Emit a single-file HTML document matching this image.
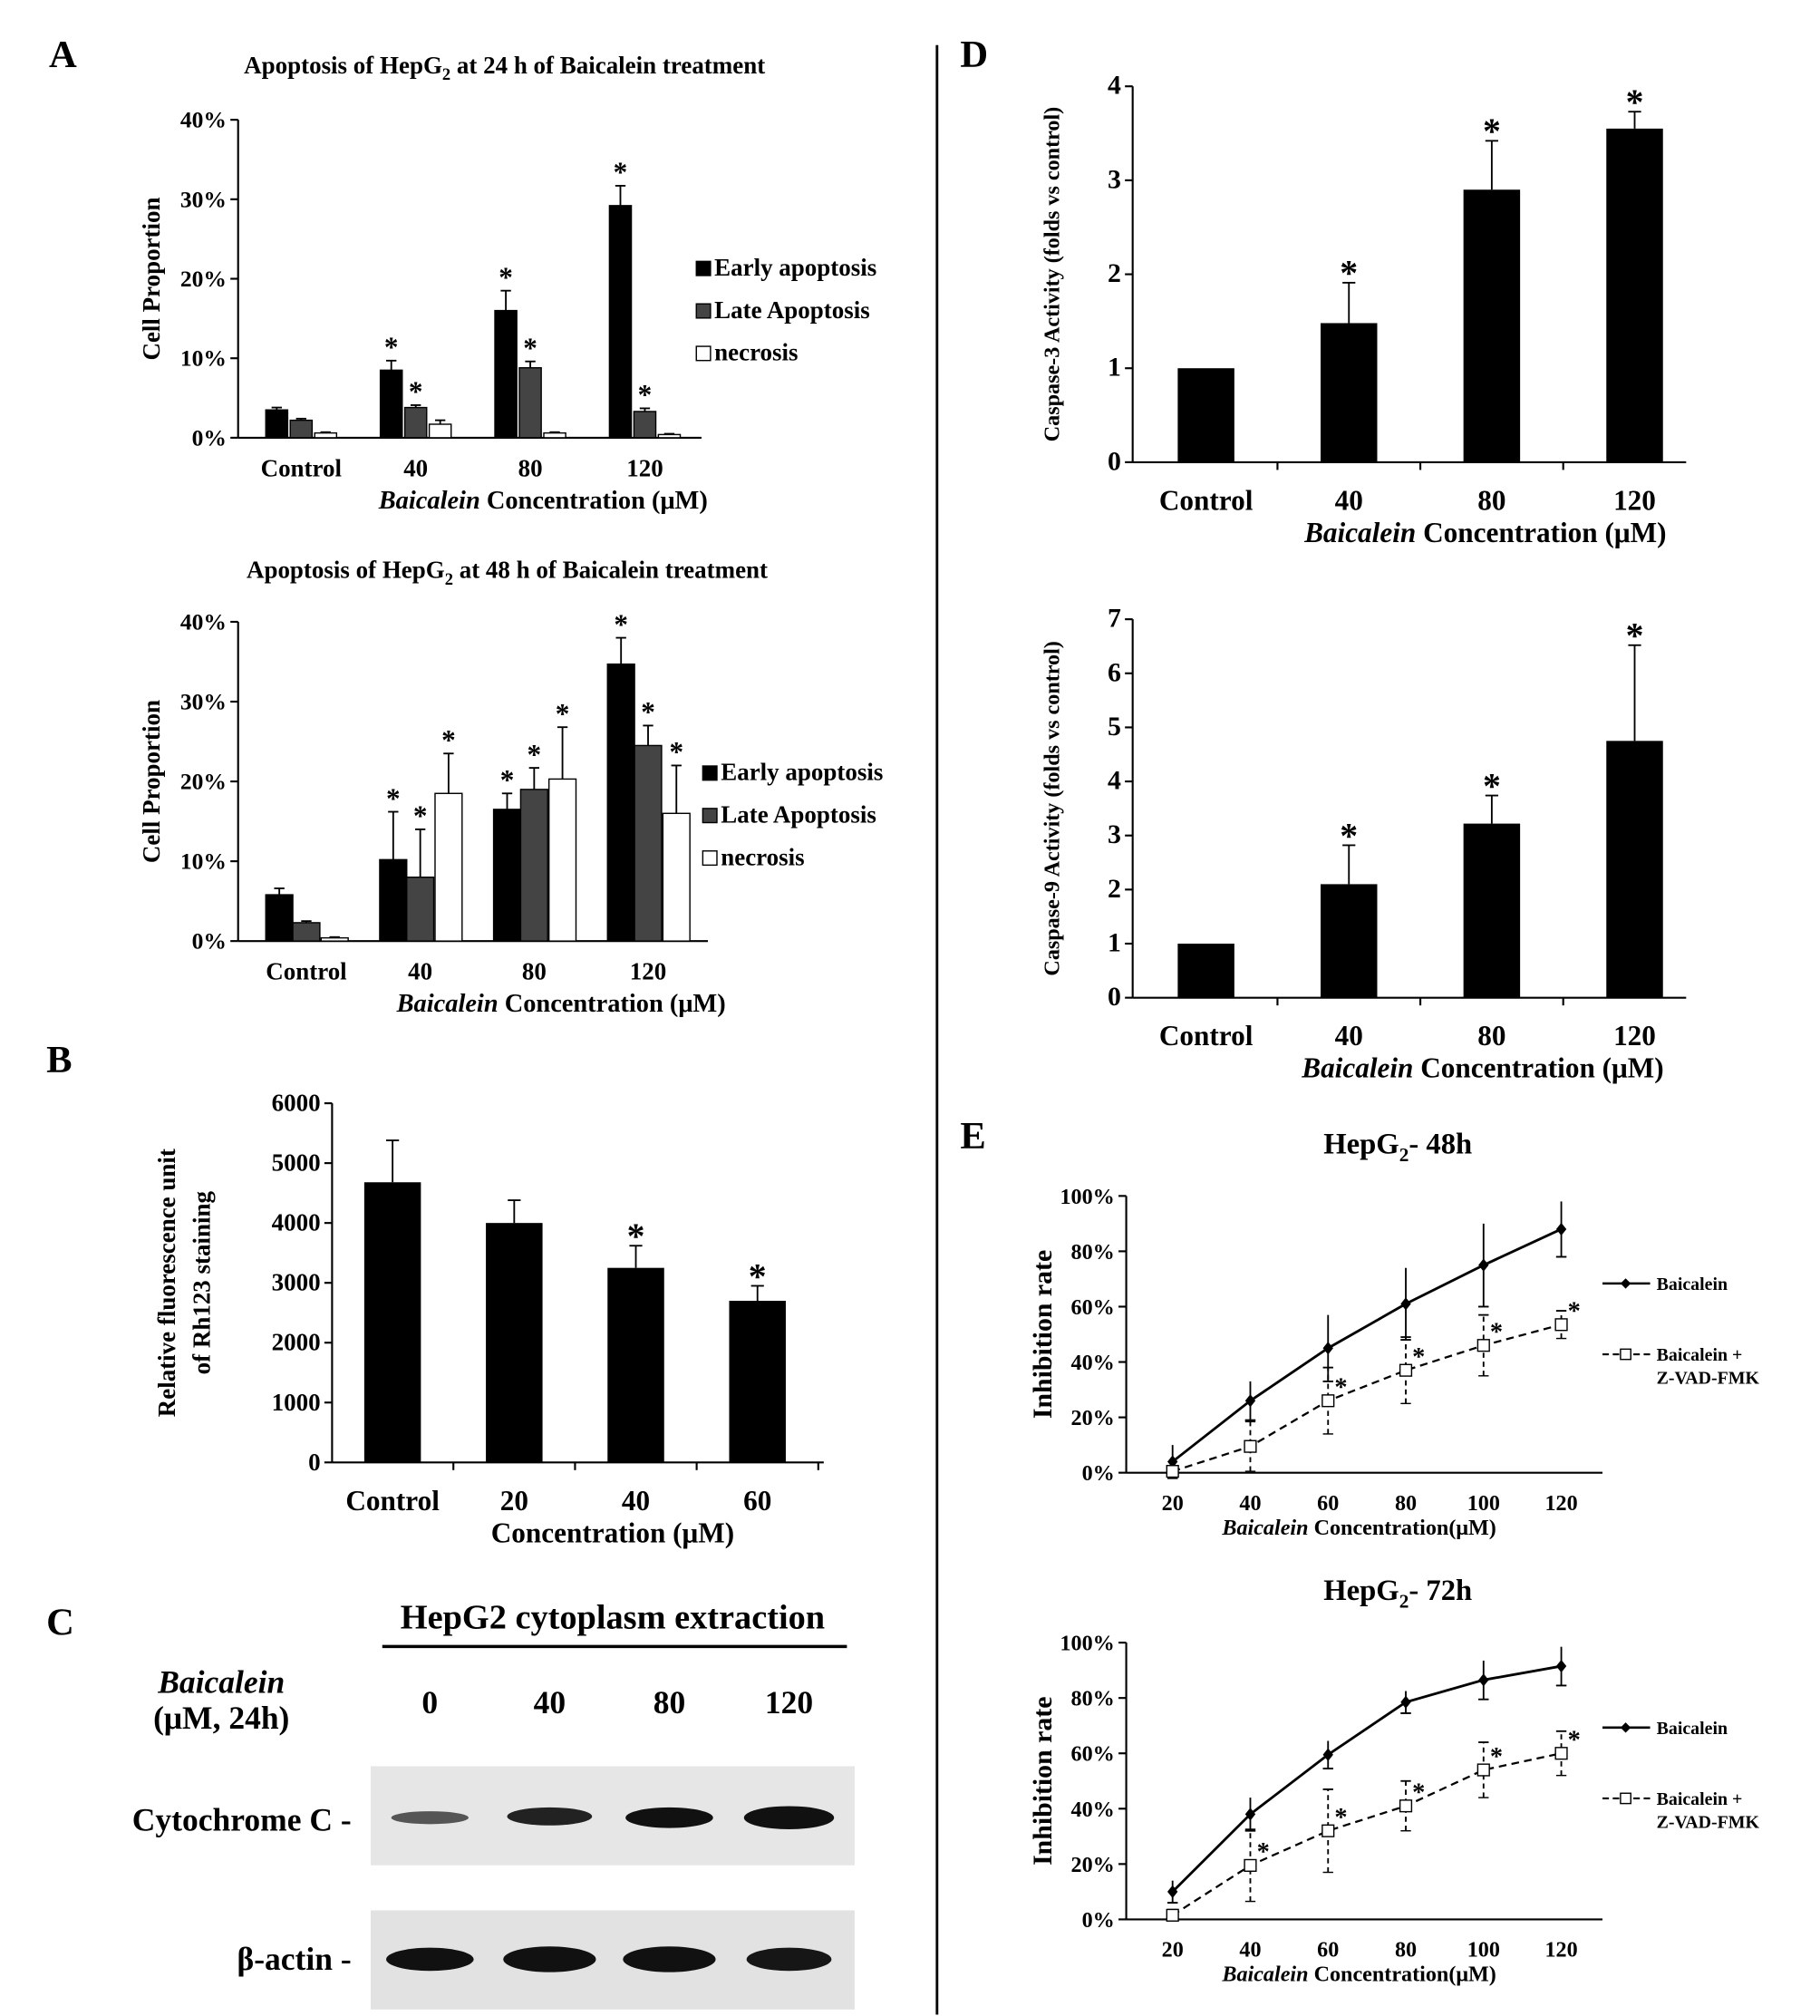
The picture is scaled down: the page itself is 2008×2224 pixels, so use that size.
<!DOCTYPE html>
<html><head><meta charset="utf-8"><style>
html,body{margin:0;padding:0;background:#fff}
svg{display:block}
text{font-family:"Liberation Serif",serif;font-weight:bold;fill:#000}
</style></head><body>
<svg id="s" width="2008" height="2224" viewBox="0 0 1414 1566" xmlns="http://www.w3.org/2000/svg">
<g id="static">
<text x="38" y="52" font-size="30">A</text>
<text x="36" y="833" font-size="30">B</text>
<text x="36" y="1270" font-size="30">C</text>
<text x="746" y="52" font-size="30">D</text>
<text x="746" y="892" font-size="30">E</text>
<line x1="728" y1="35" x2="728" y2="1565" stroke="#000" stroke-width="2"/>
<g>
<text x="476" y="1265" font-size="27" text-anchor="middle">HepG2 cytoplasm extraction</text>
<line x1="297" y1="1279" x2="658" y2="1279" stroke="#000" stroke-width="2.5"/>
<text x="172" y="1315" font-size="25" font-style="italic" text-anchor="middle">Baicalein</text>
<text x="172" y="1343" font-size="25" text-anchor="middle">(μM, 24h)</text>
<text x="334" y="1331" font-size="25" text-anchor="middle">0</text>
<text x="427" y="1331" font-size="25" text-anchor="middle">40</text>
<text x="520" y="1331" font-size="25" text-anchor="middle">80</text>
<text x="613" y="1331" font-size="25" text-anchor="middle">120</text>
<rect x="288" y="1372" width="376" height="77" fill="#e6e6e6"/>
<rect x="288" y="1484" width="376" height="77" fill="#e2e2e2"/>
<ellipse cx="334" cy="1412" rx="30" ry="5" fill="#555"/>
<ellipse cx="427" cy="1411" rx="33" ry="7" fill="#222"/>
<ellipse cx="520" cy="1412" rx="34" ry="8" fill="#111"/>
<ellipse cx="613" cy="1412" rx="35" ry="9" fill="#111"/>
<ellipse cx="334" cy="1522" rx="34" ry="9" fill="#111"/>
<ellipse cx="427" cy="1522" rx="36" ry="10" fill="#111"/>
<ellipse cx="520" cy="1522" rx="36" ry="10" fill="#111"/>
<ellipse cx="613" cy="1522" rx="33" ry="9" fill="#161616"/>
<text x="273" y="1422" font-size="25" text-anchor="end">Cytochrome C -</text>
<text x="273" y="1530" font-size="25" text-anchor="end">β-actin -</text>
</g>
</g>
<g id="charts"></g>
</svg>
<script>
// Panel A top (24h)
const a1Cats=["Control","40","80","120"];
const a1Early=[3.5,8.5,16,29.2];const a1EarlyErr=[0.3,1.2,2.5,2.5];
const a1Late=[2.2,3.8,8.8,3.3];const a1LateErr=[0.2,0.3,0.8,0.4];
const a1Nec=[0.6,1.7,0.6,0.4];const a1NecErr=[0.1,0.5,0.1,0.1];
const a1Star=[[0,0,0],[1,1,0],[1,1,0],[1,1,0]];
const aTicks=[0,10,20,30,40];
// Panel A bottom (48h)
const a2Early=[5.8,10.2,16.5,34.7];const a2EarlyErr=[0.8,6,2,3.3];
const a2Late=[2.3,8,19,24.5];const a2LateErr=[0.2,6,2.7,2.5];
const a2Nec=[0.4,18.5,20.3,16];const a2NecErr=[0.1,5,6.5,6];
const a2Star=[[0,0,0],[1,1,1],[1,1,1],[1,1,1]];
// Panel B
const bCats=["Control","20","40","60"];
const bVals=[4680,4000,3250,2700];const bErr=[700,380,370,250];const bStar=[0,0,1,1];
const bTicks=[0,1000,2000,3000,4000,5000,6000];
// Panel D
const dCats=["Control","40","80","120"];
const d1Vals=[1,1.48,2.9,3.55];const d1Err=[0,0.43,0.52,0.18];const d1Star=[0,1,1,1];
const d1Ticks=[0,1,2,3,4];
const d2Vals=[1,2.1,3.22,4.75];const d2Err=[0,0.72,0.52,1.77];const d2Star=[0,1,1,1];
const d2Ticks=[0,1,2,3,4,5,6,7];
// Panel E
const eCats=["20","40","60","80","100","120"];
const eTicks=[0,20,40,60,80,100];
const e1B=[4,26,45,61,75,88];const e1BErr=[6,7,12,13,15,10];
const e1Z=[0.5,9.5,26,37,46,53.5];const e1ZErr=[2,9,12,12,11,5];const e1Star=[0,0,1,1,1,1];
const e2B=[10,38,59.5,78.5,86.5,91.5];const e2BErr=[4,6,5,4,7,7];
const e2Z=[1.5,19.5,32,41,54,60];const e2ZErr=[2,13,15,9,10,8];const e2Star=[0,1,1,1,1,1];

const NS="http://www.w3.org/2000/svg";
const root=document.getElementById('charts');
function mk(tag,attrs,parent,txt){const e=document.createElementNS(NS,tag);for(const k in attrs)e.setAttribute(k,attrs[k]);if(txt!==undefined)e.textContent=txt;(parent||root).appendChild(e);return e;}
function yScale(y0,y1,max){return v=>y0-(v/max)*(y0-y1);}
function axes(g,x0,x1,y0,y1,ticks,max,fmt,fs){
  const sy=yScale(y0,y1,max);
  mk('line',{x1:x0,y1:y0,x2:x0,y2:y1,stroke:'#000','stroke-width':1.5},g);
  mk('line',{x1:x0,y1:y0,x2:x1,y2:y0,stroke:'#000','stroke-width':1.5},g);
  ticks.forEach(t=>{const y=sy(t);mk('line',{x1:x0-6,y1:y,x2:x0,y2:y,stroke:'#000','stroke-width':1.5},g);
    const tl=mk('text',{x:x0-9,y:y+6,'font-size':fs,'text-anchor':'end'},g,fmt(t));
    
    });
  return sy;
}
function errbar(g,x,yv,ye,w,dash){
  const a={stroke:'#000','stroke-width':1.3};if(dash)a['stroke-dasharray']='4,3';
  mk('line',Object.assign({x1:x,y1:yv,x2:x,y2:ye},a),g);
  mk('line',{x1:x-w,y1:ye,x2:x+w,y2:ye,stroke:'#000','stroke-width':1.3},g);
}
function star(g,x,y,fs){const s=mk('text',{x:x,y:y,'font-size':fs,'text-anchor':'middle'},g,'*');
  
  }

function groupedChart(name,cfg){
  const g=mk('g',{},root);
  
  
  mk('text',{x:cfg.titleX,y:cfg.titleY,'font-size':19,'text-anchor':'middle'},g).innerHTML='Apoptosis of HepG<tspan font-size="13" dy="5">2</tspan><tspan dy="-5"> at '+cfg.hours+' h of Baicalein treatment</tspan>';
  const sy=axes(g,cfg.x0,cfg.x1,cfg.y0,cfg.y1,aTicks,40,t=>t+'%',18);
  const series=[cfg.early,cfg.late,cfg.nec],errs=[cfg.earlyErr,cfg.lateErr,cfg.necErr];
  const fills=['#000','#444','#fff'],names=['early-apoptosis','late-apoptosis','necrosis'];
  a1Cats.forEach((c,i)=>{
    const cx=cfg.cx0+i*cfg.step;
    series.forEach((s,j)=>{
      const x=cx+cfg.offs[j]-cfg.bw/2;const y=sy(s[i]);
      const r=mk('rect',{x:x,y:y,width:cfg.bw,height:cfg.y0-y,fill:fills[j],stroke:'#000','stroke-width':1},g);
      
      
      const ye=sy(s[i]+errs[j][i]);errbar(g,x+cfg.bw/2,y,ye,4);
      if(cfg.star[i][j])star(g,x+cfg.bw/2,ye-3,22);
    });
    const l=mk('text',{x:cx,y:cfg.y0+30,'font-size':19,'text-anchor':'middle'},g,c);
    
    
  });
  mk('text',{x:cfg.axX,y:cfg.y0+55,'font-size':20,'text-anchor':'middle'},g).innerHTML='<tspan font-style="italic">Baicalein</tspan> Concentration (μM)';
  mk('text',{x:0,y:0,'font-size':19,'text-anchor':'middle',transform:`translate(124,${(cfg.y0+cfg.y1)/2}) rotate(-90)`},g,'Cell  Proportion');
  ['Early apoptosis','Late Apoptosis','necrosis'].forEach((t,j)=>{
    const ly=cfg.legY+j*33;
    const lr=mk('rect',{x:cfg.legX,y:ly-11,width:11,height:11,fill:fills[j],stroke:'#000'},g);
    
    
    mk('text',{x:cfg.legX+14,y:ly,'font-size':19},g,t);
  });
}
groupedChart('chart-apoptosis-24h',{titleX:392,titleY:57,hours:24,x0:185,x1:545,y0:340,y1:93,cx0:234,step:89,bw:17,offs:[-19,0,19],
 early:a1Early,earlyErr:a1EarlyErr,late:a1Late,lateErr:a1LateErr,nec:a1Nec,necErr:a1NecErr,star:a1Star,axX:422,legX:541,legY:214});
groupedChart('chart-apoptosis-48h',{titleX:394,titleY:449,hours:48,x0:185,x1:550,y0:731,y1:483,cx0:238,step:88.5,bw:21,offs:[-21,0,22],
 early:a2Early,earlyErr:a2EarlyErr,late:a2Late,lateErr:a2LateErr,nec:a2Nec,necErr:a2NecErr,star:a2Star,axX:436,legX:546,legY:606});

function simpleBar(name,cfg){
  const g=mk('g',{},root);
  
  
  const sy=axes(g,cfg.x0,cfg.x1,cfg.y0,cfg.y1,cfg.ticks,cfg.max,t=>t,cfg.tfs);
  cfg.cats.forEach((c,i)=>{
    const cx=cfg.cx0+i*cfg.step;const y=sy(cfg.vals[i]);
    const r=mk('rect',{x:cx-cfg.bw/2,y:y,width:cfg.bw,height:cfg.y0-y,fill:'#000'},g);
    
    
    let top=y;
    if(cfg.err[i]>0){top=sy(cfg.vals[i]+cfg.err[i]);errbar(g,cx,y,top,5);}
    if(cfg.star[i])star(g,cx,top+2,28);
    if(i<cfg.cats.length-1||cfg.endTick)mk('line',{x1:cx+cfg.step/2,y1:cfg.y0,x2:cx+cfg.step/2,y2:cfg.y0+6,stroke:'#000','stroke-width':1.5},g);
    const l=mk('text',{x:cx,y:cfg.y0+37,'font-size':22,'text-anchor':'middle'},g,c);
    
    
  });
  mk('text',{x:cfg.axX,y:cfg.y0+62,'font-size':22,'text-anchor':'middle'},g).innerHTML=cfg.axTitle;
  cfg.ylab.forEach((t,k)=>mk('text',{x:0,y:0,'font-size':cfg.yfs,'text-anchor':'middle',transform:`translate(${cfg.ylx[k]},${(cfg.y0+cfg.y1)/2}) rotate(-90)`},g,t));
}
simpleBar('chart-rh123',{x0:258,x1:640,y0:1136,y1:857,ticks:bTicks,max:6000,tfs:19,cats:bCats,vals:bVals,err:bErr,star:bStar,cx0:305,step:94.5,bw:44,endTick:true,
 axX:476,axTitle:'Concentration (μM)',ylab:['Relative fluorescence unit','of Rh123 staining'],ylx:[136,163],yfs:19});
simpleBar('chart-caspase3',{x0:880,x1:1310,y0:359,y1:67,ticks:d1Ticks,max:4,tfs:21,cats:dCats,vals:d1Vals,err:d1Err,star:d1Star,cx0:937,step:111,bw:44,
 axX:1154,axTitle:'<tspan font-style="italic">Baicalein</tspan> Concentration (μM)',ylab:['Caspase-3 Activity (folds vs control)'],ylx:[823],yfs:17});
simpleBar('chart-caspase9',{x0:880,x1:1310,y0:775,y1:481,ticks:d2Ticks,max:7,tfs:21,cats:dCats,vals:d2Vals,err:d2Err,star:d2Star,cx0:937,step:111,bw:44,
 axX:1152,axTitle:'<tspan font-style="italic">Baicalein</tspan> Concentration (μM)',ylab:['Caspase-9 Activity (folds vs control)'],ylx:[823],yfs:17});

function lineChart(name,cfg){
  const g=mk('g',{},root);
  
  
  mk('text',{x:1086,y:cfg.titleY,'font-size':23,'text-anchor':'middle'},g).innerHTML='HepG<tspan font-size="15" dy="6">2</tspan><tspan dy="-6">- '+cfg.h+'</tspan>';
  const sy=axes(g,875,1245,cfg.y0,cfg.y1,eTicks,100,t=>t+'%',17);
  const sx=i=>911+i*60.4;
  eCats.forEach((c,i)=>{const l=mk('text',{x:sx(i),y:cfg.y0+29,'font-size':17,'text-anchor':'middle'},g,c);
    
    });
  mk('text',{x:1056,y:cfg.y0+48,'font-size':17,'text-anchor':'middle'},g).innerHTML='<tspan font-style="italic">Baicalein</tspan> Concentration(μM)';
  mk('text',{x:0,y:0,'font-size':21,'text-anchor':'middle',transform:`translate(817,${(cfg.y0+cfg.y1)/2}) rotate(-90)`},g,'Inhibition rate');
  cfg.b.forEach((v,i)=>{errbar(g,sx(i),sy(v+cfg.bErr[i]),sy(v-cfg.bErr[i]),4);mk('line',{x1:sx(i)-4,y1:sy(v-cfg.bErr[i]),x2:sx(i)+4,y2:sy(v-cfg.bErr[i]),stroke:'#000'},g);});
  cfg.z.forEach((v,i)=>{errbar(g,sx(i),sy(Math.max(0,v-cfg.zErr[i])),sy(v+cfg.zErr[i]),4,true);mk('line',{x1:sx(i)-4,y1:sy(Math.max(0,v-cfg.zErr[i])),x2:sx(i)+4,y2:sy(Math.max(0,v-cfg.zErr[i])),stroke:'#000'},g);
    if(cfg.star[i])star(g,sx(i)+10,sy(v)-4,20);});
  const pb=mk('polyline',{points:cfg.b.map((v,i)=>sx(i)+','+sy(v)).join(' '),fill:'none',stroke:'#000','stroke-width':2},g);
  
  
  const pz=mk('polyline',{points:cfg.z.map((v,i)=>sx(i)+','+sy(v)).join(' '),fill:'none',stroke:'#000','stroke-width':1.6,'stroke-dasharray':'6,4'},g);
  
  
  cfg.b.forEach((v,i)=>{const p=mk('path',{d:`M${sx(i)},${sy(v)-5}l4,5l-4,5l-4,-5z`,fill:'#000'},g);
    
    });
  cfg.z.forEach((v,i)=>{const p=mk('rect',{x:sx(i)-4.5,y:sy(v)-4.5,width:9,height:9,fill:'#fff',stroke:'#000'},g);
    
    });
  const ly=cfg.legY;
  mk('line',{x1:1245,y1:ly,x2:1282,y2:ly,stroke:'#000','stroke-width':1.8},g);
  mk('path',{d:`M1263,${ly-4}l4,4l-4,4l-4,-4z`,fill:'#000'},g);
  mk('text',{x:1287,y:ly+5,'font-size':14},g,'Baicalein');
  mk('line',{x1:1245,y1:ly+55,x2:1282,y2:ly+55,stroke:'#000','stroke-width':1.5,'stroke-dasharray':'5,3'},g);
  mk('rect',{x:1259,y:ly+51,width:8,height:8,fill:'#fff',stroke:'#000'},g);
  mk('text',{x:1287,y:ly+60,'font-size':14},g,'Baicalein +');
  mk('text',{x:1287,y:ly+78,'font-size':14},g,'Z-VAD-FMK');
}
lineChart('chart-inhibition-48h',{titleY:896,h:'48h',y0:1144,y1:929,b:e1B,bErr:e1BErr,z:e1Z,zErr:e1ZErr,star:e1Star,legY:997});
lineChart('chart-inhibition-72h',{titleY:1243,h:'72h',y0:1491,y1:1276,b:e2B,bErr:e2BErr,z:e2Z,zErr:e2ZErr,star:e2Star,legY:1342});
</script>
</body></html>
